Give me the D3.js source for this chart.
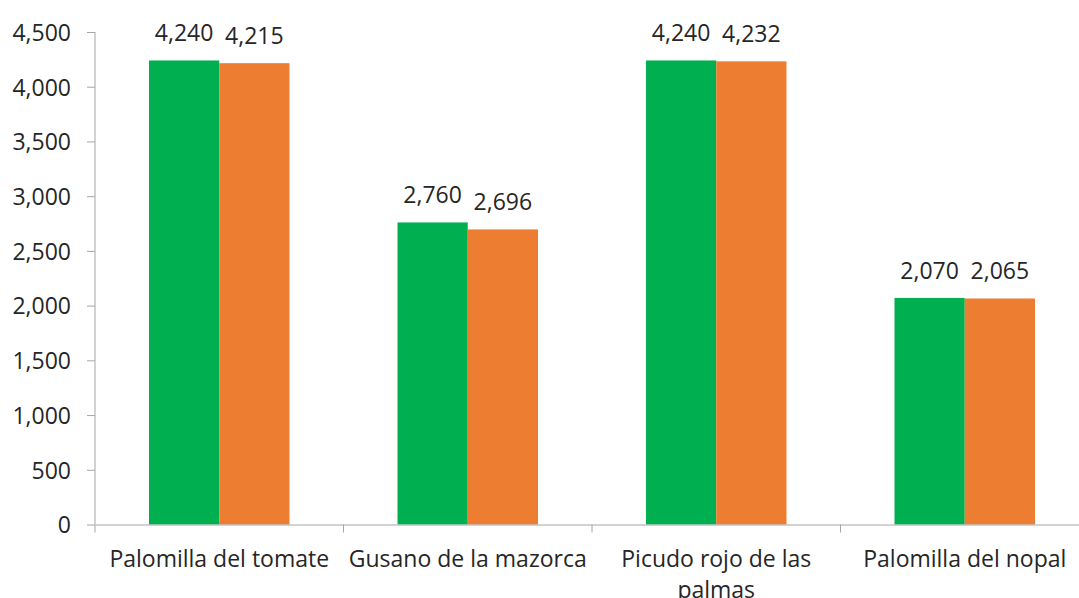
<!DOCTYPE html>
<html>
<head>
<meta charset="utf-8">
<script src="https://cdn.jsdelivr.net/npm/d3@7"></script>
<style>
  body { margin: 0; background: #fff; }
  svg text { font-family: "Open Sans", sans-serif; fill: #262626; }
</style>
</head>
<body>
<div id="chart"></div>
<script>
var categories = ["Palomilla del tomate", "Gusano de la mazorca", "Picudo rojo de las palmas", "Palomilla del nopal"];
var seriesA = [4240, 2760, 4240, 2070];
var seriesB = [4215, 2696, 4232, 2065];
var yTicks = [0, 500, 1000, 1500, 2000, 2500, 3000, 3500, 4000, 4500];
var colors = ["#00B050", "#ED7D31"];

const W = 1079, H = 598;
const margin = { top: 32, right: -10, bottom: 73.5, left: 95 };
const width = W - margin.left - margin.right;
const height = H - margin.top - margin.bottom;

const svg = d3.select("#chart").append("svg")
    .attr("width", W).attr("height", H);
const g = svg.append("g").attr("transform", `translate(${margin.left},${margin.top})`);

const x = d3.scaleBand().domain(categories).range([0, width]).paddingInner(0).paddingOuter(0);
const inner = d3.scaleBand().domain([0, 1]).range([54, x.bandwidth() - 54]);
const y = d3.scaleLinear().domain([0, 4500]).range([height, 0]);

// y axis
const yAxis = g.append("g")
    .call(d3.axisLeft(y).tickValues(yTicks).tickSize(8).tickPadding(16).tickFormat(d3.format(",")));
yAxis.select(".domain").attr("stroke", "#A6A6A6").attr("d", `M0,0V${height}`);
yAxis.selectAll(".tick line").attr("stroke", "#A6A6A6");
yAxis.selectAll("text").style("font-size", "23px").attr("dy", "0.36em");

// bars
const rows = categories.map((c, i) => ({ name: c, vals: [seriesA[i], seriesB[i]] }));
const grp = g.selectAll(".grp").data(rows).enter().append("g")
    .attr("transform", d => `translate(${x(d.name)},0)`);
grp.selectAll("rect").data(d => d.vals).enter().append("rect")
    .attr("x", (d, j) => inner(j))
    .attr("width", inner.bandwidth())
    .attr("y", d => y(d))
    .attr("height", d => height - y(d))
    .attr("fill", (d, j) => colors[j]);
grp.selectAll(".lbl").data(d => d.vals).enter().append("text")
    .attr("class", "lbl")
    .attr("x", (d, j) => inner(j) + inner.bandwidth() / 2)
    .attr("y", d => y(d) - 19)
    .attr("text-anchor", "middle")
    .style("font-size", "23px")
    .text(d => d3.format(",")(d));

// x axis
const xAxis = g.append("g").attr("transform", `translate(0,${height})`)
    .call(d3.axisBottom(x).tickSize(0).tickFormat(""));
xAxis.select(".domain").attr("stroke", "#A6A6A6");
xAxis.selectAll(".tick").remove();
const bounds = [0].concat(categories.map(c => x(c) + x.bandwidth()));
xAxis.selectAll(".sep").data(bounds).enter().append("line")
    .attr("x1", d => d).attr("x2", d => d).attr("y1", 0).attr("y2", 8)
    .attr("stroke", "#A6A6A6");

// category labels with wrapping
categories.forEach(function(c) {
    const t = xAxis.append("text")
        .attr("x", x(c) + x.bandwidth() / 2)
        .attr("y", 42)
        .attr("text-anchor", "middle")
        .style("font-size", "23px");
    const words = c.split(" ");
    let line = [], tspan = t.append("tspan").attr("x", x(c) + x.bandwidth() / 2).attr("dy", 0);
    words.forEach(function(w) {
        line.push(w);
        tspan.text(line.join(" "));
        if (tspan.node().getComputedTextLength() > 245 && line.length > 1) {
            line.pop();
            tspan.text(line.join(" "));
            line = [w];
            tspan = t.append("tspan").attr("x", x(c) + x.bandwidth() / 2).attr("dy", 31).text(w);
        }
    });
});
</script>
</body>
</html>
